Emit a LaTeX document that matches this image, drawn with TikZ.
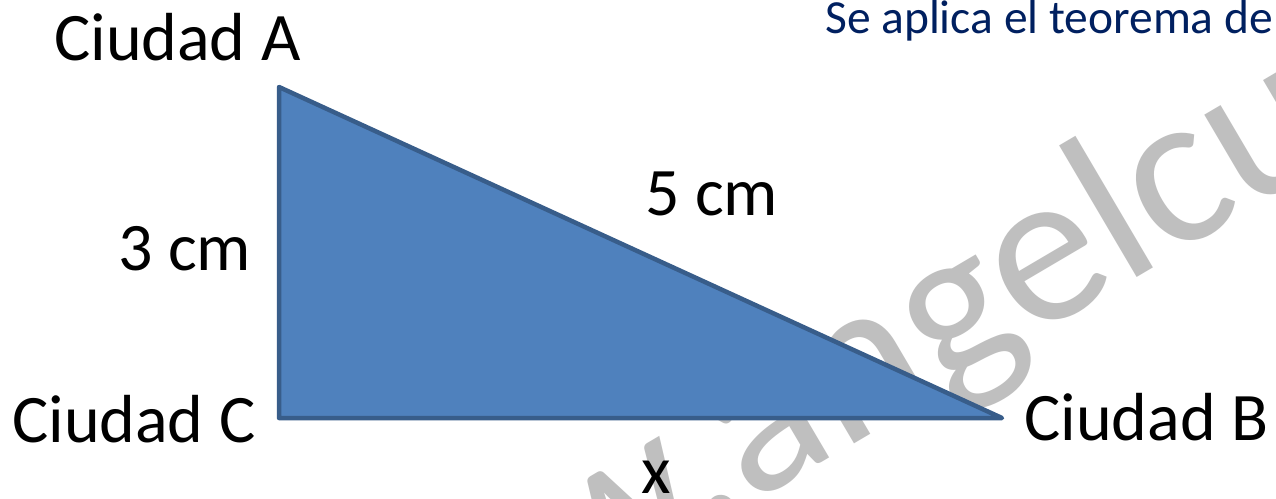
\documentclass[tikz,border=0pt]{standalone}
\usepackage{fontspec}
\setmainfont{Carlito}
\definecolor{trifill}{RGB}{79,129,189}
\definecolor{triline}{RGB}{56,93,138}
\definecolor{navytext}{RGB}{0,32,96}
\definecolor{wmgray}{RGB}{191,191,191}
\begin{document}
\begin{tikzpicture}[x=1pt,y=-1pt,
  lbl/.style={anchor=base west,inner sep=0pt,font=\fontsize{68}{80}\selectfont,text=black},
  title/.style={anchor=base west,inner sep=0pt,font=\fontsize{47.5}{56}\selectfont,text=navytext},
  watermark/.style={anchor=base west,inner sep=0pt,font=\fontsize{220}{250}\selectfont,text=wmgray,rotate=30.5},
  tri/.style={fill=trifill,draw=triline,line width=4.5pt,line join=round}]
\clip (0,0) rectangle (1276,498);
\fill[white] (0,0) rectangle (1276,498);
% watermark (behind the triangle)
\node[watermark] (wm) at (307,766) {www.angelcu};
% vertices
\coordinate (A) at (279,87);
\coordinate (C) at (279,418);
\coordinate (B) at (1002,418);
\draw[tri] (A) -- (B) -- (C) -- cycle;
% labels
\node[title] (tt) at (825,33) {Se aplica el teorema de};
\node[lbl] (la) at (54,60) {Ciudad A};
\node[lbl] (lc) at (12,442) {Ciudad C};
\node[lbl] (lb) at (1024,440) {Ciudad B};
\node[lbl] (s3) at (118,270) {3 cm};
\node[lbl] (s5) at (645,215) {5 cm};
\node[lbl] (sx) at (641,493) {x};
\end{tikzpicture}
\end{document}
